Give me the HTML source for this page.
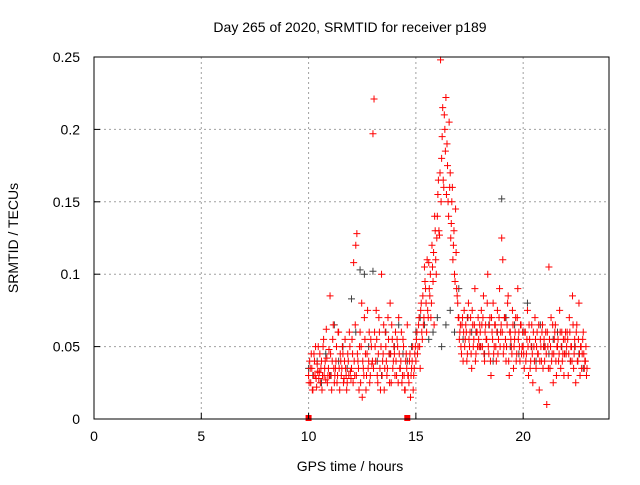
<!DOCTYPE html>
<html><head><meta charset="utf-8"><style>
body{margin:0;background:#fff}
svg text{font-family:"Liberation Sans",sans-serif;font-size:14px;fill:#000}
</style></head><body>
<svg id="chart" width="640" height="480" viewBox="0 0 640 480" xmlns="http://www.w3.org/2000/svg"></svg>
<script>
const xTicks=[0,5,10,15,20];
const yTicks=[0,0.05,0.1,0.15,0.2,0.25];
const yTickLabels=["0","0.05","0.1","0.15","0.2","0.25"];
const redStart=10.0, redStep=0.05;
const redValues=[0.03,0.04,0.025,0.035,0.02,0.045,0.03,0.028,0.038,0.05,0.032,0.025,0.04,0.03,0.055,0.035,0.027,0.042,0.03,0.048,
0.085,0.03,0.04,0.065,0.025,0.035,0.05,0.03,0.06,0.02,0.04,0.035,0.045,0.028,0.055,0.03,0.025,0.04,0.06,0.033,
0.035,0.045,0.108,0.03,0.12,0.128,0.04,0.02,0.06,0.05,0.015,0.035,0.07,0.045,0.03,0.075,0.04,0.025,0.055,0.038,
0.197,0.221,0.05,0.075,0.03,0.045,0.06,0.02,0.1,0.04,0.065,0.035,0.05,0.03,0.07,0.045,0.08,0.025,0.055,0.04,
0.045,0.06,0.03,0.05,0.07,0.035,0.04,0.025,0.055,0.03,0.02,0.045,0.065,0.03,0.04,0.015,0.035,0.05,0.03,0.045,
0.04,0.06,0.05,0.07,0.035,0.08,0.055,0.065,0.105,0.09,0.06,0.075,0.108,0.085,0.07,0.12,0.095,0.065,0.13,0.1,
0.14,0.165,0.127,0.248,0.18,0.215,0.16,0.2,0.222,0.19,0.15,0.205,0.17,0.135,0.16,0.12,0.1,0.145,0.09,0.08,
0.07,0.06,0.05,0.065,0.04,0.075,0.055,0.06,0.045,0.08,0.05,0.07,0.035,0.065,0.055,0.09,0.045,0.06,0.07,0.05,
0.06,0.075,0.05,0.085,0.04,0.065,0.055,0.1,0.045,0.07,0.03,0.06,0.08,0.05,0.065,0.04,0.075,0.055,0.09,0.06,
0.125,0.11,0.05,0.07,0.04,0.065,0.085,0.03,0.06,0.05,0.075,0.035,0.055,0.07,0.045,0.09,0.06,0.04,0.065,0.05,
0.05,0.035,0.06,0.045,0.075,0.03,0.055,0.04,0.065,0.025,0.05,0.07,0.035,0.06,0.045,0.02,0.055,0.04,0.065,0.05,
0.04,0.06,0.01,0.05,0.105,0.035,0.07,0.045,0.025,0.055,0.065,0.03,0.05,0.04,0.075,0.035,0.06,0.045,0.03,0.055,
0.045,0.06,0.03,0.07,0.04,0.05,0.085,0.035,0.055,0.025,0.065,0.04,0.08,0.03,0.05,0.045,0.06,0.035,0.04,0.03];
const red2Start=10.025, red2Step=0.05;
const red2Values=[0.025,0.035,0.045,0.02,0.03,0.04,0.05,0.022,0.033,0.028,0.045,0.035,0.02,0.05,0.03,0.04,0.062,0.025,0.035,0.03,
0.045,0.02,0.055,0.035,0.03,0.04,0.025,0.06,0.035,0.045,0.03,0.05,0.025,0.04,0.035,0.02,0.045,0.03,0.05,0.028,
0.055,0.025,0.04,0.065,0.03,0.045,0.035,0.05,0.025,0.08,0.04,0.03,0.055,0.02,0.045,0.035,0.06,0.03,0.05,0.04,
0.035,0.06,0.04,0.055,0.025,0.07,0.035,0.05,0.03,0.045,0.02,0.06,0.04,0.035,0.055,0.025,0.045,0.065,0.035,0.05,
0.03,0.04,0.055,0.025,0.045,0.035,0.06,0.03,0.05,0.02,0.04,0.035,0.03,0.025,0.045,0.03,0.04,0.02,0.035,0.05,
0.055,0.045,0.065,0.05,0.075,0.06,0.085,0.07,0.095,0.08,0.11,0.07,0.09,0.1,0.08,0.105,0.115,0.14,0.11,0.125,
0.155,0.13,0.17,0.15,0.195,0.165,0.21,0.185,0.155,0.175,0.14,0.16,0.125,0.15,0.11,0.13,0.095,0.115,0.085,0.07,
0.055,0.065,0.045,0.07,0.06,0.05,0.065,0.04,0.07,0.055,0.06,0.045,0.075,0.05,0.065,0.04,0.06,0.05,0.055,0.065,
0.05,0.065,0.07,0.045,0.06,0.055,0.08,0.05,0.065,0.04,0.07,0.055,0.045,0.065,0.05,0.06,0.045,0.07,0.05,0.065,
0.06,0.045,0.07,0.055,0.05,0.08,0.04,0.06,0.055,0.045,0.065,0.05,0.06,0.04,0.07,0.055,0.05,0.065,0.045,0.06,
0.045,0.06,0.04,0.055,0.05,0.065,0.035,0.05,0.045,0.06,0.04,0.055,0.05,0.045,0.065,0.04,0.05,0.06,0.035,0.055,
0.05,0.045,0.06,0.035,0.055,0.05,0.04,0.065,0.045,0.06,0.04,0.05,0.055,0.045,0.06,0.05,0.04,0.055,0.045,0.06,
0.05,0.055,0.045,0.06,0.05,0.04,0.065,0.045,0.05,0.06,0.04,0.055,0.045,0.05,0.035,0.055,0.045,0.04,0.05,0.035];
const grayStart=10.0, grayStep=0.2;
const grayValues=[0.035,0.03,0.04,0.025,0.045,0.03,0.065,0.04,0.05,0.035,0.083,0.06,0.103,0.1,0.05,0.102,0.04,0.03,0.06,0.045,0.05,0.065,0.045,0.04,0.05,0.06,0.07,0.065,0.055,0.06,0.07,0.05,0.065,0.075,0.06,0.09,0.055,0.07,0.06,0.06,0.05,0.045,0.065,0.04,0.06,0.152,0.07,0.05,0.065,0.045,0.06,0.08,0.05,0.04,0.065,0.05,0.045,0.055,0.06,0.05,0.045,0.04,0.05,0.045,0.035];
const gapTimes=[10.0,14.6];

const svg=document.getElementById('chart');
const NS='http://www.w3.org/2000/svg';
const L=94,R=609,T=57,B=419,XMAX=24,YMAX=0.25;
const xs=v=>L+(v/XMAX)*(R-L);
const ys=v=>B-(v/YMAX)*(B-T);
function mk(tag,attrs,parent){const e=document.createElementNS(NS,tag);for(const k in attrs)e.setAttribute(k,attrs[k]);(parent||svg).appendChild(e);return e;}

const grid=mk('g',{});


xTicks.forEach(t=>{if(t>0){const l=mk('line',{x1:xs(t),x2:xs(t),y1:T,y2:B,stroke:'#a0a0a0','stroke-dasharray':'2,3'},grid);}});
yTicks.forEach(t=>{if(t>0&&t<YMAX){const l=mk('line',{x1:L,x2:R,y1:ys(t),y2:ys(t),stroke:'#a0a0a0','stroke-dasharray':'2,3'},grid);}});

function plus(x,y,color,g){const p=mk('path',{d:`M${x-3.5} ${y}h7M${x} ${y-3.5}v7`,stroke:color,'stroke-width':1},g);}
const gg=mk('g',{});


grayValues.forEach((v,i)=>plus(xs(grayStart+i*grayStep),ys(v),'#404040',gg));
const rg=mk('g',{});


redValues.forEach((v,i)=>plus(xs(redStart+i*redStep),ys(v),'#ff0000',rg));
red2Values.forEach((v,i)=>plus(xs(red2Start+i*red2Step),ys(v),'#ff0000',rg));
gapTimes.forEach(t=>{const r=mk('rect',{x:xs(t)-3,y:B-4,width:6,height:6,fill:'#ff0000'});});

const frame=mk('rect',{x:L,y:T,width:R-L,height:B-T,fill:'none',stroke:'#000','stroke-width':1});


xTicks.forEach(t=>{const l=mk('line',{x1:xs(t),x2:xs(t),y1:B,y2:B-6,stroke:'#000'});
const tx=mk('text',{x:xs(t),y:B+22,'text-anchor':'middle'});tx.textContent=t;});
yTicks.forEach((t,i)=>{const l=mk('line',{x1:L,x2:L+6,y1:ys(t),y2:ys(t),stroke:'#000'});
const tx=mk('text',{x:L-14,y:ys(t)+5,'text-anchor':'end'});tx.textContent=yTickLabels[i];});

const title=mk('text',{x:350,y:32,'text-anchor':'middle'});title.textContent='Day 265 of 2020, SRMTID for receiver p189';


const xt=mk('text',{x:350,y:471,'text-anchor':'middle'});xt.textContent='GPS time / hours';


const yt=mk('text',{x:18,y:238,'text-anchor':'middle',transform:'rotate(-90 18 238)'});yt.textContent='SRMTID / TECUs';


</script>
</body></html>
